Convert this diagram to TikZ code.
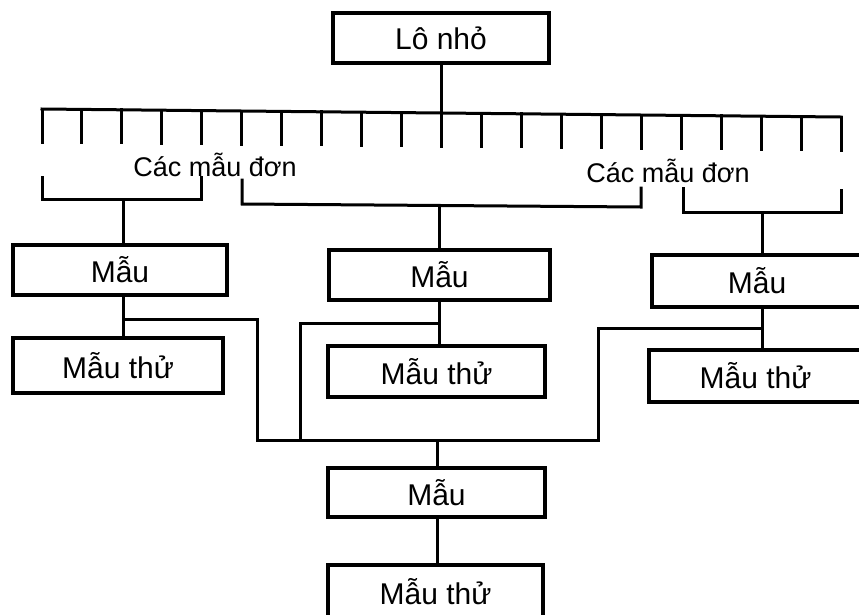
\documentclass[tikz,border=0pt]{standalone}
\usepackage{fontspec}
\setmainfont{Liberation Sans}
\begin{document}
\begin{tikzpicture}[x=1pt,y=-1pt,
  line width=3pt, line cap=rect,
  boxnode/.style={draw, line width=3.2pt, inner sep=0pt, font=\fontsize{30}{32}\selectfont, anchor=center},
  lbl/.style={inner sep=0pt, font=\fontsize{27}{29}\selectfont}]
\useasboundingbox (0,0) rectangle (859,614);
% boxes
\node[boxnode, minimum width=216pt, minimum height=50pt] (lot) at (441,38) {Lô nhỏ};
\node[boxnode, minimum width=214pt, minimum height=50pt] (m1) at (120,270) {Mẫu};
\node[boxnode, minimum width=210pt, minimum height=55pt] (t1) at (118,365.5) {Mẫu thử};
\node[boxnode, minimum width=221pt, minimum height=50pt] (m2) at (439.5,275) {Mẫu};
\node[boxnode, minimum width=217pt, minimum height=51pt] (t2) at (436.5,371.5) {Mẫu thử};
\node[boxnode, minimum width=210pt, minimum height=52pt] (m3) at (757,281) {Mẫu};
\node[boxnode, minimum width=213pt, minimum height=52pt] (t3) at (755.5,376) {Mẫu thử};
\node[boxnode, minimum width=217pt, minimum height=49pt] (m4) at (436.5,492.5) {Mẫu};
\node[boxnode, minimum width=215pt, minimum height=53pt] (t4) at (435.5,591.5) {Mẫu thử};
% labels
\node[lbl] (la) at (215,165) {Các mẫu đơn};
\node[lbl] (lb) at (668,171) {Các mẫu đơn};
% comb
\coordinate (barL) at (42,109);
\coordinate (barR) at (841,117);
\coordinate (barM) at (441,113);
\draw (barL) -- (barR);
\draw (lot.south) -- (barM);
\foreach \i in {0,...,20}{
  \pgfmathsetmacro{\xx}{42+39.95*\i}
  \pgfmathsetmacro{\yy}{109+8*(\xx-42)/799}
  \coordinate (tt\i) at (\xx,\yy);
  \draw (tt\i) -- ++(0,33);
}
% brackets
\coordinate (b1) at (123,199);
\draw (42,177) -- (42,199) -- (201,199) -- (201,177);
\draw (b1) -- (b1 |- m1.north);
\coordinate (b2) at (439,205);
\draw (242,180) -- (242,204) -- (641,207) -- (641,188);
\draw (b2) -- (b2 |- m2.north);
\coordinate (b3) at (762,212);
\draw (683,188) -- (683,212) -- (841,212) -- (841,190);
\draw (b3) -- (b3 |- m3.north);
% sample to test sample
\coordinate (c1) at (123,319);
\coordinate (c2) at (439,323);
\coordinate (c3) at (762,328);
\draw (c1 |- m1.south) -- (c1 |- t1.north);
\draw (c2 |- m2.south) -- (c2 |- t2.north);
\draw (c3 |- m3.south) -- (c3 |- t3.north);
% collector
\coordinate (k1) at (257,440);
\coordinate (k2) at (300,440);
\coordinate (k3) at (598,440);
\coordinate (km) at (437,440);
\draw (c1) -- (c1 -| k1) -- (k1);
\draw (c2) -- (c2 -| k2) -- (k2);
\draw (c3) -- (c3 -| k3) -- (k3);
\draw (k1) -- (k3);
\draw (km) -- (km |- m4.north);
\draw (km |- m4.south) -- (km |- t4.north);
\end{tikzpicture}
\end{document}
